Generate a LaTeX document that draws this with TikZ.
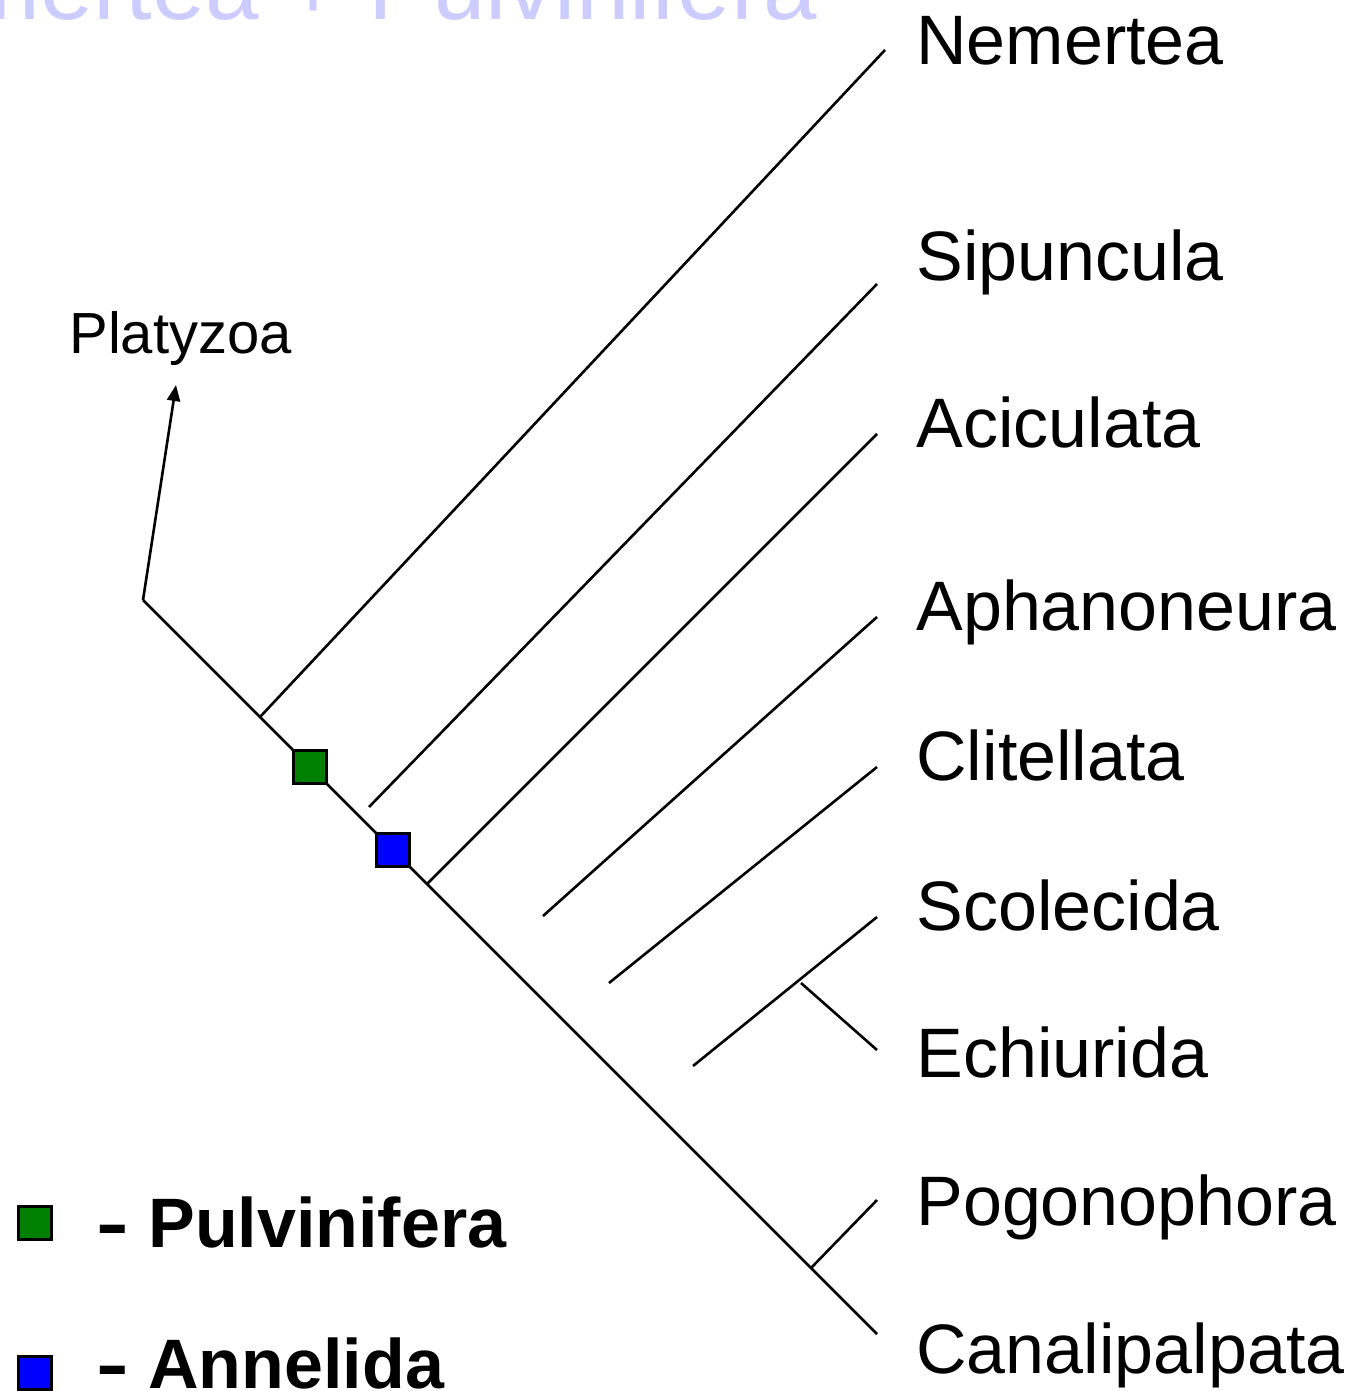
\documentclass[tikz,border=0pt]{standalone}
\usepackage{fontspec}
\setmainfont{Liberation Sans}
\usetikzlibrary{arrows.meta}
\definecolor{pgreen}{HTML}{008000}
\definecolor{pblue}{HTML}{0000FF}
\definecolor{lav}{HTML}{CCCCFF}
\begin{document}
\begin{tikzpicture}[x=0.5pt,y=-0.5pt,
  branch/.style={line width=1.3pt},
  taxon/.style={anchor=base west,inner sep=0pt,font=\fontsize{35}{40}\selectfont},
  legtext/.style={anchor=base west,inner sep=0pt,font=\bfseries\fontsize{35}{40}\selectfont},
  marker/.style={draw=black,line width=1.4pt,minimum size=16.5pt,inner sep=0pt}]
\clip (0,0) rectangle (1353,1391);
\fill[white] (0,0) rectangle (1353,1391);
% faded title
\node[anchor=base east,inner sep=0pt,text=lav,font=\fontsize{48}{52}\selectfont] (title) at (817,20) {Nemertea + Pulvinifera};
% coordinates
\coordinate (root) at (143,600);
\coordinate (nemB) at (260,717);
\coordinate (nemT) at (885,50);
\coordinate (sipB) at (369,807);
\coordinate (sipT) at (877,284);
\coordinate (aciB) at (427,884);
\coordinate (aciT) at (877,434);
\coordinate (aphB) at (543,916);
\coordinate (aphT) at (877,617);
\coordinate (cliB) at (609,983);
\coordinate (cliT) at (877,767);
\coordinate (scoB) at (693,1066);
\coordinate (scoT) at (877,917);
\coordinate (echB) at (801,983);
\coordinate (echT) at (877,1050);
\coordinate (pogB) at (811,1268);
\coordinate (pogT) at (877,1200);
\coordinate (canT) at (877,1334);
\coordinate (platT) at (176,385);
% labels
\node[taxon] (nem) at (916,65) {Nemertea};
\node[taxon] (sip) at (916,280) {Sipuncula};
\node[taxon] (aci) at (916,447) {Aciculata};
\node[taxon] (aph) at (916,630) {Aphanoneura};
\node[taxon] (cli) at (916,780) {Clitellata};
\node[taxon] (sco) at (916,930) {Scolecida};
\node[taxon] (ech) at (916,1077) {Echiurida};
\node[taxon] (pog) at (916,1225) {Pogonophora};
\node[taxon] (can) at (916,1373) {Canalipalpata};
\node[anchor=base west,inner sep=0pt,font=\fontsize{29}{33}\selectfont] (plat) at (69,353) {Platyzoa};
% tree
\draw[branch] (root) -- (canT);
\draw[branch,-{Triangle[length=8pt,width=6.5pt]}] (root) -- (platT);
\draw[branch] (nemB) -- (nemT);
\draw[branch] (sipB) -- (sipT);
\draw[branch] (aciB) -- (aciT);
\draw[branch] (aphB) -- (aphT);
\draw[branch] (cliB) -- (cliT);
\draw[branch] (scoB) -- (scoT);
\draw[branch] (echB) -- (echT);
\draw[branch] (pogB) -- (pogT);
% markers
\node[marker,fill=pgreen] (pulv) at (310,767) {};
\node[marker,fill=pblue] (anne) at (393,850) {};
% legend
\node[marker,fill=pgreen] (lg) at (35,1223) {};
\node[marker,fill=pblue] (lb) at (35,1373) {};
\node[legtext] (lgd) at (96,1247) {\scalebox{1.4}[1]{-}};
\node[legtext] (lgt) at (148,1247) {Pulvinifera};
\node[legtext] (lbd) at (96,1388) {\scalebox{1.4}[1]{-}};
\node[legtext] (lbt) at (148,1388) {Annelida};
\end{tikzpicture}
\end{document}
